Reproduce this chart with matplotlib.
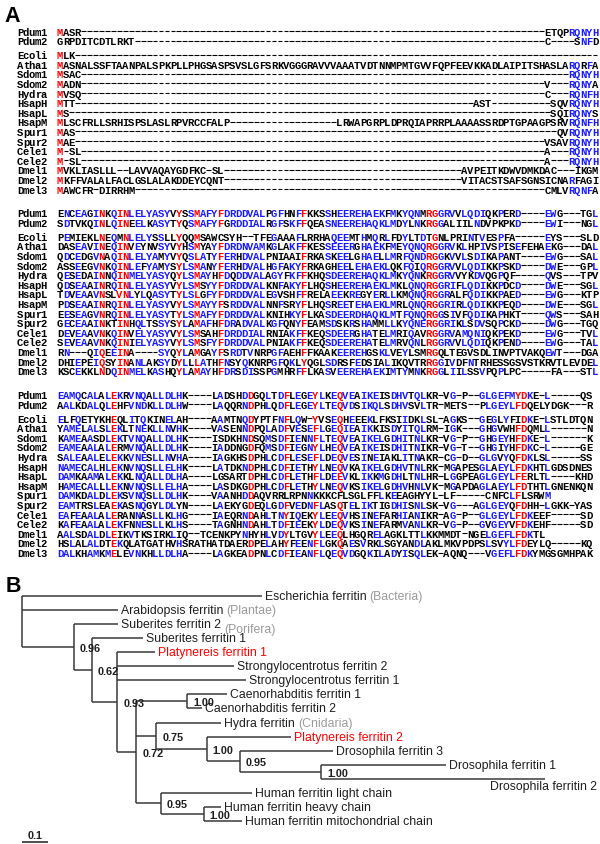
import matplotlib
matplotlib.use("Agg")
import matplotlib.pyplot as plt
from matplotlib.collections import LineCollection
from collections import Counter

# ---------------- panel A : ferritin alignment ----------------
names = ["Pdum1", "Pdum2", "Ecoli", "Atha1", "Sdom1", "Sdom2", "Hydra", "HsapH", "HsapL",
         "HsapM", "Spur1", "Spur2", "Cele1", "Cele2", "Dmel1", "Dmel2", "Dmel3"]

block1 = [
    "MASR" + "-" * 78 + "ETQPRQNYH",
    "GRPDITCDTLRKT" + "-" * 69 + "C----SNFD",
    "MLK" + "-" * 88,
    "MASNALSSFTAANPALSPKPLLPHGSASPSVSLGFSRKVGGGRAVVVAAATVDTNNMPMTGVVFQPFEEVKKADLAIPITSHASLARQRFA",
    "MSAC" + "-" * 82 + "RQNYH",
    "MADN" + "-" * 78 + "V---RQNYA",
    "MVSQ" + "-" * 78 + "C---RQNFH",
    "MTT" + "-" * 67 + "AST" + "-" * 10 + "SQVRQNYH",
    "MS" + "-" * 81 + "SQIRQNYS",
    "MLSCFRLLSRHISPSLASLRPVRCCFALP" + "-" * 18 + "LRWAPGRPLDPRQIAPRRPLAAAASSRDPTGPAAGPSRVRQNFH",
    "MAS" + "-" * 81 + "QVRQNYH",
    "MAE" + "-" * 79 + "VSAVRQNYH",
    "M-SL" + "-" * 78 + "A---RQNYH",
    "M-SL" + "-" * 78 + "A---RQNYH",
    "MVKLIASLLL--LAVVAQAYGDFKC-SL" + "-" * 40 + "AVPEITKDWVDMKDAC---IKGM",
    "MKFFVALALFACLGSLALAKDDEYCQNT" + "-" * 40 + "VITACSTSAFSGNSICNARFAGI",
    "MAWCFR-DIRRHM" + "-" * 69 + "CMLVRQNFA",
]

block2 = [
    "ENCEAGINKQINLELYASYVYSSMAFYFDRDDVALPGFHNFFKKSSHEEREHAEKFMKYQNMRGGRVVLQDIQKPERD----EWG---TGL",
    "SDTVKQINLQINEELKASYTYQSMAFYFGRDDIALRGFSKFFQEASNEEREHAQKLMDYLNKRGGALIILNDVPKPKD----EWI---NGL",
    "PEMIEKLNEQMNLELYSSLLYQQMSAWCSYH--TFEGAAAFLRRHAQEEMTHMQRLFDYLTDTGNLPRINTVESPFA-----EYS---SLD",
    "DASEAVINEQINVEYNVSYVYHSMYAYFDRDNVAMKGLAKFFKESSEEERGHAEKFMEYQNQRGGRVKLHPIVSPISEFEHAEKG---DAL",
    "QDCEDGVNAQINLELYAMYVYQSLATYFERHDVALPNIAAIFRKASKEELGHAELLMRFQNDRGGKVVLSDIKAPANT----EWG---SAL",
    "ASSEEGVNKQINLEFYAMYSYLSMANYFERHDVALHGFAKYFRKAGHEELEHAEKLQKFQIQRGGRVVLQDIKKPSKD----DWE---GPL",
    "QESEDAINNQINMELYASYQYLSMAYHFDQDDVALAGYFKFFKHQSDEEREHAQKLMKYQNKRGGRVVYKDVQGPQF-----QVS---TPV",
    "QDSEAAINRQINLELYASYVYLSMSYYFDRDDVALKNFAKYFLHQSHEEREHAEKLMKLQNQRGGRIFLQDIKKPDCD----DWE---SGL",
    "TDVEAAVNSLVNLYLQASYTYLSLGFYFDRDDVALEGVSHFFRELAEEKREGYERLLKMQNQRGGRALFQDIKKPAED----EWG---KTP",
    "PDSEAAINRQINLELYASYVYLSMAYYFSRDDVALNNFSRYFLHQSREETEHAEKLMRLQNQRGGRIRLQDIKKPEQD----DWE---SGL",
    "EESEAGVNRQINLELYASYTYLSMAFYFDRDDVALKNIHKYFLKASDEERDHAQKLMTFQNQRGGSIVFQDIKAPHKT----QWS---SAH",
    "GECEAAINKTINHQLTSSYSYLAMAFHFDRADVALKGFQNYFEAMSDSKRSHAMMLLKYQNERGGRIKLSDVSQPCKD----DWG---TGQ",
    "DEVEAAVNKQINVELYASYVYLSMSAHFDRDDIALRNIAKFFKEQSDEERGHATELMRIQAVRGGRVAMQNIQKPEKD----EWG---TVL",
    "SEVEAAVNKQINIELYASYVYLSMSFYFDRDDVALPNIAKFFKEQSDEEREHATELMRVQNLRGGRVVLQDIQKPEND----EWG---TAL",
    "RN---QIQEEINA----SYQYLAMGAYFSRDTVNRPGFAEHFFKAAKEEREHGSKLVEYLSMRGQLTEGVSDLINVPTVAKQEWT---DGA",
    "DHIEPEIQSYINANLAKSYDYLLLATHFNSYQKNRPGFQKLYQGLSDRSFEDSIALIKQVTRRGGIVDFNTRHESSGSVSTKRVTLEVDEL",
    "KSCEKKLNDQINMELKASHQYLAMAYHFDRSDISSPGMHRFFLKASVEEREHAEKIMTYMNKRGGLIILSSVPQPLPC-----FA---STL",
]

block3 = [
    "EAMQCALALEKRVNQALLDLHK----LADSHDDGQLTDFLEGEYLKEQVEAIKEISDHVTQLKR-VG-P--GLGEFMYDKE-L-----QS",
    "AALKDALQLEHFVNDKLLDLHW----LAQQRNDPHLQDFLEGEYLTEQVDSIKQLSDHVSVLTR-METS--PLGEYLFDQELYDGK---R",
    "ELFQETYKHEQLITQKINELAH----AAMTNQDYPTFNFLQW-YVSEQHEEEKLFKSIIDKLSL-AGKS--GEGLYFIDKE-LSTLDTQN",
    "YAMELALSLEKLTNEKLLNVHK----VASENNDPQLADFVESEFLGEQIEAIKKISDYITQLRM-IGK---GHGVWHFDQMLL------N",
    "KAMEAASDLEKTVNQALLDLHK----ISDKHNDSQMSDFIENNFLTEQVEAIKELGDHITNLKR-VG-P--GHGEYHFDKE-L------K",
    "EAMEAALALERMVNQALLDLHK----IADDNGDFQMSDFIEGNYLHEQVEAIKEISDHITNIKR-VG-T--GHGIYHFDKC-L-----GE",
    "SALEAALELEKKVNESLLNVHA----IAGKHSDPHLCDFLESEFLDEQVESINEIAKLITNAKR-CG-D--GLGVYQFDKLSL-----SS",
    "NAMECALHLEKNVNQSLLELHK----LATDKNDPHLCDFIETHYLNEQVKAIKELGDHVTNLRK-MGAPESGLAEYLFDKHTLGDSDNES",
    "DAMKAAMALEKKLNQALLDLHA----LGSARTDPHLCDFLETHFLDEEVKLIKKMGDHLTNLHR-LGGPEAGLGEYLFERLTL----KHD",
    "HAMECALLLEKNVNQSLLELHA----LASDKGDPHLCDFLETHYLNEQVKSIKELGDHVHNLVK-MGAPDAGLAEYLFDTHTLGNENKQN",
    "DAMKDALDLEKSVNQSLLDLHK----VAANHDDAQVRRLRPNNKKKCFLSGLFFLKEEAGHYYL-LF-----CNFCLFLSRWM",
    "EAMTRSLEAEKASNQGYLDLYN----LAEKYGDEQLGDFVEDNFLASQTELIKTIGDHISNLSK-VG---AGLGEYQFDHH-LGKK-YAS",
    "EAFEAALALERANNASLLKLHG----IAEQRNDAHLTNYIQEKYLEEQVHSINEFARHIANIKR-AG-P--GLGEYLFDKEEF-----SD",
    "KAFEAALALEKFNNESLLKLHS----TAGNHNDAHLTDFIEEKYLDEQVKSINEFARMVANLKR-VG-P--GVGEYVFDKEHF-----SD",
    "AALSDALDLEIKVTKSIRKLIQ--TCENKPYNHYHLVDYLTGVYLEEQLHGQRELAGKLTTLKKMMDT-NGELGEFLFDKTL",
    "HSLALALDTEKQLATGATHVHSRATHATDAERDPELAHYFEENFLGKQAESVRKLSGYANDLAKLMKVPDPSLSVYLFDEYLQ-----KQ",
    "DALKHAMKMELEVNKHLLDLHA----LAGKEADPNLCDFIEANFLQEQVDGQKILADYISQLEK-AQNQ---VGEFLFDKYMGSGMHPAK",
]

# MultAlin consensus: residue groups and the high / low consensus levels
groups = ["IV", "LM", "FY", "NDQEBZ"]
high_level = 0.9
low_level = 0.5

# ---------------- panel B : ferritin tree ----------------
node_label = ["", "Escherichia ferritin", "Arabidopsis ferritin", "", "Suberites ferritin 2", "",
              "Suberites ferritin 1", "", "Platynereis ferritin 1", "Strongylocentrotus ferritin 2",
              "Strongylocentrotus ferritin 1", "", "", "Caenorhabditis ferritin 1",
              "Caenorhabditis ferritin 2", "", "Hydra ferritin", "", "Platynereis ferritin 2", "",
              "Drosophila ferritin 3", "", "Drosophila ferritin 1", "Drosophila ferritin 2", "",
              "Human ferritin light chain", "", "Human ferritin heavy chain",
              "Human ferritin mitochondrial chain"]
node_parent = [-1, 0, 0, 0, 3, 3, 5, 5, 7, 7, 7, 7, 11, 12, 12, 11, 15, 15, 17, 17, 19, 19, 21, 21,
               11, 24, 24, 26, 26]
branch_length = [0.0, 0.94, 0.376, 0.202, 0.174, 0.072, 0.200, 0.100, 0.147, 0.459, 0.504, 0.075,
                 0.198, 0.157, 0.057, 0.077, 0.255, 0.198, 0.330, 0.131, 0.365, 0.318, 0.490, 0.877,
                 0.096, 0.357, 0.167, 0.069, 0.151]
support = [None, None, None, 0.96, None, 0.62, None, 0.93, None, None, None, 0.72, 1.00, None, None,
           0.75, None, 1.00, None, 0.95, None, 1.00, None, None, 0.95, None, 1.00, None, None]
taxon_note = {"Escherichia ferritin": "(Bacteria)", "Arabidopsis ferritin": "(Plantae)",
              "Hydra ferritin": "(Cnidaria)"}
porifera_note = "(Porifera)"
highlight = ["Platynereis ferritin 1", "Platynereis ferritin 2"]
scale_length = 0.1

# ---------------- figure ----------------
W, H, DPI = 600, 845, 100
fig = plt.figure(figsize=(W / DPI, H / DPI), dpi=DPI)
RED, BLUE, INK = "#ff0000", "#1a1aff", "#1e1e1e"

CELL = 5.945          # px per alignment column
SEQ_X, NAME_X = 57, 17
BLOCK_TOP = [32, 213.8, 395.6]
ROW, SPLIT, BASE = 9.6, 4.4, 3.5

ax = fig.add_axes([0, 0, 1, 1])
ax.set_xlim(-SEQ_X / CELL, (W - SEQ_X) / CELL)
ax.set_ylim(H, 0)
ax.axis("off")
mono = dict(family="Liberation Mono", fontweight="bold", fontsize=7.6)


def colour_block(block):
    n = len(block)
    width = max(len(s) for s in block)
    colours = [["black"] * len(s) for s in block]
    for j in range(width):
        res = [s[j] for s in block if j < len(s) and s[j] != "-"]
        if not res:
            continue
        cnt = Counter(res)
        best, nbest = cnt.most_common(1)[0]
        cands = [(nbest, {best})]
        for g in groups:
            cands.append((sum(v for r, v in cnt.items() if r in g), set(g)))
        k, members = max(cands, key=lambda c: c[0])
        if k / n >= high_level:
            col = RED
        elif k / n >= low_level:
            col = BLUE
        else:
            continue
        for i, s in enumerate(block):
            if j < len(s) and s[j] in members:
                colours[i][j] = col
    return colours


dashes = []
for b, block in enumerate([block1, block2, block3]):
    colours = colour_block(block)
    for i, (name, seq) in enumerate(zip(names, block)):
        y = BLOCK_TOP[b] + i * ROW + (SPLIT if i >= 2 else 0)
        name_col = (NAME_X - SEQ_X) / CELL
        for c, ch in enumerate(name):
            ax.text(name_col + c + 0.5, y + BASE, ch, color="black",
                    va="baseline", ha="center", **mono)
        for j, ch in enumerate(seq):
            if ch == "-":
                dashes.append([(j + 0.1, y), (j + 0.9, y)])
            else:
                ax.text(j + 0.5, y + BASE, ch, color=colours[i][j],
                        va="baseline", ha="center", **mono)
ax.add_collection(LineCollection(dashes, colors="black", linewidths=0.8))

# tree axes: x in substitutions per site, y in leaf order
ROOT_X, UNIT = 22, 255.0
LEAF0, LEAF_STEP = 597, 14.06
tax = fig.add_axes([0, 0, 1, 1])
tax.set_xlim(-ROOT_X / UNIT, (W - ROOT_X) / UNIT)
tax.set_ylim((H - LEAF0) / LEAF_STEP, -LEAF0 / LEAF_STEP)
tax.axis("off")
tax.patch.set_alpha(0)

children = {i: [] for i in range(len(node_label))}
for i, p in enumerate(node_parent):
    if p >= 0:
        children[p].append(i)

sans = dict(family="Liberation Sans")
line_kw = dict(color="#3a3a3a", lw=1.1, solid_capstyle="butt")
leaf_counter = [0]
leaf_text = {}


def draw(node, x0):
    x = x0 + branch_length[node]
    kids = children[node]
    if not kids:
        y = leaf_counter[0]
        leaf_counter[0] += 1
        name = node_label[node]
        t = tax.annotate(name, xy=(x, y), xytext=(3, 0), textcoords="offset pixels",
                         va="center", ha="left", fontsize=8.8,
                         color=RED if name in highlight else INK, **sans)
        leaf_text[name] = t
        return x, y
    pts = [draw(k, x) for k in kids]
    y = (pts[0][1] + pts[-1][1]) / 2
    tax.plot([x, x], [pts[0][1], pts[-1][1]], **line_kw)
    for cx, cy in pts:
        tax.plot([x, cx], [cy, cy], **line_kw)
    if support[node] is not None:
        tax.annotate(f"{support[node]:.2f}", xy=(x, y), xytext=(6, -1), textcoords="offset pixels",
                     va="center", ha="left", fontsize=7.8, fontweight="bold", color=INK, **sans)
    return x, y


draw(0, 0.0)

for name, note in taxon_note.items():
    tax.annotate(note, xy=(1, 0.5), xycoords=leaf_text[name], xytext=(3, 0),
                 textcoords="offset pixels", va="center", ha="left", fontsize=8.8,
                 color="#9a9a9a", **sans)
tax.annotate(porifera_note, xy=(1, 0.5), xycoords=leaf_text["Suberites ferritin 2"],
             xytext=(3, -5), textcoords="offset pixels", va="center", ha="left",
             fontsize=8.8, color="#9a9a9a", **sans)

# labels running off the right edge drop below their branch
renderer = fig.canvas.get_renderer()
for name, t in leaf_text.items():
    if t.get_window_extent(renderer).x1 > W:
        t.set_ha("right")
        t.xy = (tax.get_xlim()[1], t.xy[1] + 0.5)
        t.xyann = (-3, 0)

sy = (843 - LEAF0) / LEAF_STEP
tax.plot([0, scale_length], [sy, sy], color=INK, lw=1.1, solid_capstyle="butt")
tax.annotate(f"{scale_length:g}", xy=(scale_length / 2, sy), xytext=(0, 2), textcoords="offset pixels",
             ha="center", va="bottom", fontsize=7.8, fontweight="bold", color=INK, **sans)

fig.text(4 / W, 1 - 22 / H, "A", fontsize=15.5, fontweight="bold", va="baseline", ha="left", **sans)
fig.text(6 / W, 1 - 592 / H, "B", fontsize=15.5, fontweight="bold", va="baseline", ha="left", **sans)

fig.savefig("out.png", dpi=DPI)
